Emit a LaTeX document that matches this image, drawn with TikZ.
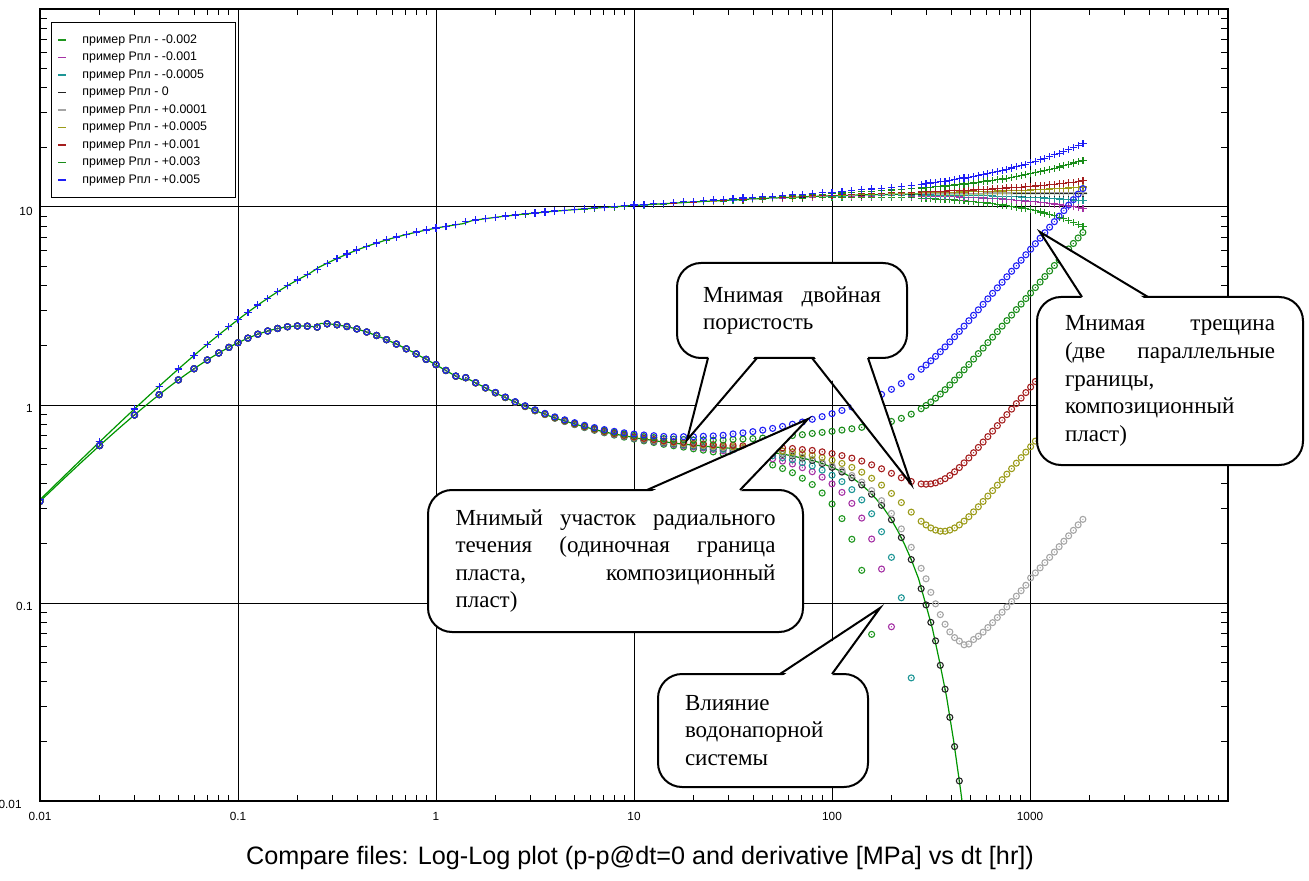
\documentclass[tikz,border=0pt]{standalone}
\usepackage{fontspec}
\setmainfont{Liberation Serif}
\setsansfont{Liberation Sans}
\usepackage{tikz}
\usetikzlibrary{calc}

\definecolor{sA}{RGB}{30,150,30}
\definecolor{sB}{RGB}{165,50,165}
\definecolor{sC}{RGB}{30,150,150}
\definecolor{sD}{RGB}{35,35,35}
\definecolor{sE}{RGB}{165,165,165}
\definecolor{sF}{RGB}{155,155,25}
\definecolor{sG}{RGB}{165,30,30}
\definecolor{sH}{RGB}{25,140,25}
\definecolor{sI}{RGB}{30,30,245}
\definecolor{modelgreen}{RGB}{0,150,0}

% log10(t) -> model curves
\pgfmathdeclarefunction{lnA}{1}{\pgfmathparse{3.52+2.302585*(#1)}}
\pgfmathdeclarefunction{lnR}{1}{\pgfmathparse{ln(9+1.26642*(#1)-0.275*ln(1+exp(4.60517*(#1)-10.0212)))}}
\pgfmathdeclarefunction{lnPz}{1}{\pgfmathparse{-ln(exp(-1.3*lnA(#1))+exp(-1.3*lnR(#1)))/1.3}}
\pgfmathdeclarefunction{Dz}{1}{\pgfmathparse{exp(2.3*lnPz(#1)-1.3*lnA(#1))+0.59*exp(2.3*(lnPz(#1)-lnR(#1)))*exp(-min(exp(4.60517*(#1)-10.8054),9))}}

% markers of all series at one time value
\newcommand{\datapoints}[1]{%
  \pgfmathsetmacro\Pz{exp(lnPz(#1))}
  \pgfmathsetmacro\Dzv{Dz(#1)}
  \pgfmathsetmacro\tval{exp(2.302585*(#1))}
  \pgfmathsetmacro\tkv{exp(2.6711*(#1)-0.9126)}
  \foreach \c/\col in {-0.002/sA,-0.001/sB,-0.0005/sC,0/sD,0.0001/sE,0.0005/sF,0.001/sG,0.003/sH,0.005/sI} {
    \pgfmathsetmacro\vp{log10(max(\Pz+(\c)*\tval,0.0001))}
    \pgfmathsetmacro\vd{log10(max(\Dzv+(\c)*\tkv,0.0001))}
    \draw[pmark, color=\col] (#1,\vp) +(-1.8pt,0pt) -- +(1.8pt,0pt) +(0pt,-1.8pt) -- +(0pt,1.8pt);
    \draw[dmark, color=\col] (#1,\vd) circle[radius=1.5pt];
    \fill[color=\col] (#1,\vd) circle[radius=0.35pt];
  }}

\begin{document}
\begin{tikzpicture}[
    x=0.5pt, y=-0.5pt,
    gridline/.style={black, line width=0.5pt},
    frame/.style={black, line width=0.7pt},
    axtick/.style={black, line width=0.5pt},
    modelline/.style={modelgreen, line width=0.6pt},
    pmark/.style={line width=0.6pt},
    dmark/.style={line width=0.55pt},
    legtext/.style={anchor=west, inner sep=0pt, font=\sffamily\fontsize{6.2pt}{7pt}\selectfont},
    legline/.style={line width=0.7pt},
    axlabel/.style={inner sep=0pt, font=\sffamily\fontsize{5.9pt}{7pt}\selectfont},
    callout/.style={draw, fill=white, line width=1pt, rounded corners=12pt, outer sep=0pt, inner sep=0pt, font=\fontsize{11.5pt}{13.8pt}\selectfont},
    pointer/.style={black, line width=1pt}
]
\useasboundingbox[fill=white] (0,0) rectangle (1309,881);

% Plot area, log-log
\begin{scope}[shift={(436,405)}, x=99pt, y=99pt]
  \begin{scope}
    \clip (-2,-2) rectangle (4,2);
    % Grid
    \foreach \g in {-1,0,1,2,3} \draw[gridline] (\g,-2) -- (\g,2);
    \foreach \g in {-1,0,1} \draw[gridline] (-2,\g) -- (4,\g);
    % Model lines
    \draw[modelline] plot[variable=\u, domain=-2:3.29, samples=110] ({\u},{lnPz(\u)/2.302585});
    \draw[modelline] plot[variable=\u, domain=-2:3.29, samples=150] ({\u},{log10(max(Dz(\u),0.0001))});
    % Data points
    \foreach \u in {-2,-1.699,-1.523,-1.398,-1.301,-1.222,-1.155,-1.097,-1.046}
      \datapoints{\u};
    \foreach \j in {0,...,69} {
      \pgfmathsetmacro\u{-1+0.05*\j}
      \datapoints{\u}
    }
    \foreach \j in {0,...,33} {
      \pgfmathsetmacro\u{2.475+0.024*\j}
      \datapoints{\u}
    }
  \end{scope}
  % Frame and ticks
  \draw[frame] (-2,-2) rectangle (4,2);
  \draw[line width=1pt] (-2,2) -- (-2,-2) -- (4,-2);
  \foreach \d in {-2,...,3} \foreach \k in {2,...,9} {
    \draw[axtick] ({\d+log10(\k)},-2) -- +(0pt,3pt);
    \draw[axtick] ({\d+log10(\k)},2) -- +(0pt,-3pt);
  }
  \foreach \d in {-2,...,1} \foreach \k in {2,...,9} {
    \draw[axtick] (-2,{\d+log10(\k)}) -- +(3.5pt,0pt);
    \draw[axtick] (4,{\d+log10(\k)}) -- +(-3.5pt,0pt);
  }
\end{scope}

% Axis labels
\foreach \lab [count=\i] in {0.01,0.1,1,10,100,1000}
  \node[axlabel] (xl\i) at ({40+198*(\i-1)},816) {\lab};
\node[axlabel, anchor=east] (yl1) at (33,211) {10};
\node[axlabel, anchor=east] (yl2) at (33,408) {1};
\node[axlabel, anchor=east] (yl3) at (33,606) {0.1};
\node[axlabel, anchor=east] (yl4) at (22,804) {0.01};

% Title
\node[inner sep=0pt, font=\sffamily\fontsize{12.6pt}{15pt}\selectfont] (title) at (640,858)
  {Compare files: Log-Log plot (p-p@dt=0 and derivative [MPa] vs dt [hr])};

% Legend
\node[draw, fill=white, line width=0.6pt, anchor=north west, minimum width=92pt, minimum height=87.5pt, inner sep=0pt] (legend) at (51,22) {};
\foreach \lab/\col [count=\i] in {-0.002/sA,-0.001/sB,-0.0005/sC,0/sD,+0.0001/sE,+0.0005/sF,+0.001/sG,+0.003/sH,+0.005/sI} {
  \node[legtext] (leg\i) at (82,{22.5+17.5*\i}) {пример Рпл - \lab};
  \draw[legline, color=\col] ($(leg\i.west)+(-24,0)$) -- +(8,0);
}

% Callouts
\node[callout, minimum width=115pt, minimum height=47.5pt, text width=89pt, align=justify] (dual) at (792,310.5)
  {Мнимая двойная\linebreak пористость};
\node[callout, minimum width=187.5pt, minimum height=71pt, text width=160pt, align=justify] (radial) at (615.5,561)
  {Мнимый участок радиального\linebreak течения (одиночная граница\linebreak пласта, композиционный\linebreak пласт)};
\node[callout, minimum width=133pt, minimum height=84pt, text width=105pt, align=justify] (frac) at (1170,381)
  {Мнимая трещина\linebreak (две параллельные\linebreak границы,\linebreak композиционный\linebreak пласт)};
\node[callout, minimum width=105pt, minimum height=56.5pt, text width=78pt, align=left] (aquifer) at (763,730.5)
  {Влияние\\ водонапорной\\ системы};

\coordinate (dualtip) at (687,440);
\coordinate (redtip) at (911,484);
\coordinate (radialtip) at (808,419);
\coordinate (fractip) at (1040,232);
\coordinate (aquifertip) at (880,608);

% Pointers
\fill[white] ($(dual.south west)+(32,-3)$) -- (dualtip) -- ($(dual.south west)+(79,-3)$) -- cycle;
\draw[pointer] ($(dual.south west)+(31,0)$) -- (dualtip) -- ($(dual.south west)+(80,0)$);
\fill[white] ($(dual.south west)+(136,-3)$) -- (redtip) -- ($(dual.south west)+(190,-3)$) -- cycle;
\draw[pointer] ($(dual.south west)+(135,0)$) -- (redtip) -- ($(dual.south west)+(191,0)$);
\fill[white] ($(radial.north west)+(220,3)$) -- (radialtip) -- ($(radial.north west)+(311,3)$) -- cycle;
\draw[pointer] ($(radial.north west)+(219,0)$) -- (radialtip) -- ($(radial.north west)+(312,0)$);
\fill[white] ($(frac.north west)+(46,3)$) -- (fractip) -- ($(frac.north west)+(110,3)$) -- cycle;
\draw[pointer] ($(frac.north west)+(45,0)$) -- (fractip) -- ($(frac.north west)+(111,0)$);
\fill[white] ($(aquifer.north west)+(123,3)$) -- (aquifertip) -- ($(aquifer.north west)+(173,3)$) -- cycle;
\draw[pointer] ($(aquifer.north west)+(122,0)$) -- (aquifertip) -- ($(aquifer.north west)+(174,0)$);

\end{tikzpicture}
\end{document}
